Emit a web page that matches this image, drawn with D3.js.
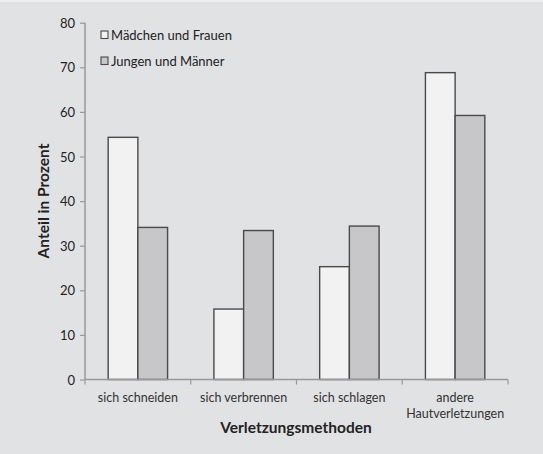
<!DOCTYPE html>
<html><head><meta charset="utf-8">
<script src="https://cdn.jsdelivr.net/npm/d3@7"></script>
<style>html,body{margin:0;padding:0;background:#e1e2e4;}svg{display:block;}</style>
</head><body><svg id="c" width="543" height="454"></svg>
<script>
const categories = [["sich schneiden"], ["sich verbrennen"], ["sich schlagen"], ["andere", "Hautverletzungen"]];
const seriesNames = ["Mädchen und Frauen", "Jungen und Männer"];
const maedchen = [54.3, 15.8, 25.3, 68.8];
const jungen = [34.1, 33.4, 34.4, 59.2];
const yTicks = [0, 10, 20, 30, 40, 50, 60, 70, 80];
const colors = ["#f2f2f3", "#c7c7c9"];

const svg = d3.select("#c");
const font = "Lato, 'Open Sans', sans-serif";
svg.append("rect").attr("width",543).attr("height",454).attr("fill","#e1e2e4");
svg.append("rect").attr("width",543).attr("height",2).attr("fill","#eeeeef");

const m = {left:85, right:508, top:22.7, bottom:379.5};
const x = d3.scaleBand().domain(d3.range(categories.length)).range([m.left, m.right]).paddingInner(0).paddingOuter(0);
const x1 = d3.scaleBand().domain([0,1]).range([0, x.bandwidth()]).paddingOuter(0.78).paddingInner(0);
const y = d3.scaleLinear().domain([0,80]).range([m.bottom, m.top]);

// y axis
const ya = svg.append("g").attr("transform",`translate(${m.left},0)`).call(d3.axisLeft(y).tickValues(yTicks).tickSize(5).tickPadding(5));
ya.select(".domain").attr("stroke","#999").attr("stroke-width",1.5).attr("d",`M0,${m.top}V${m.bottom}`);
ya.selectAll(".tick line").attr("stroke","#999").attr("stroke-width",1.2);
ya.selectAll(".tick text").attr("font-family",font).attr("font-size",13).attr("fill","#222").attr("dy","0.35em");

// bars
const data = [maedchen, jungen];
categories.forEach((c,i)=>{
  data.forEach((s,j)=>{
    svg.append("rect")
      .attr("x", x(i)+x1(j)).attr("width", x1.bandwidth())
      .attr("y", y(s[i])).attr("height", y(0)-y(s[i]))
      .attr("fill", colors[j]).attr("stroke","#4a4a4a").attr("stroke-width",1.4);
  });
});

// x axis
const xa = svg.append("g").attr("transform",`translate(0,${m.bottom})`);
xa.append("line").attr("x1",m.left).attr("x2",m.right).attr("stroke","#999").attr("stroke-width",1.5);
const bounds = d3.range(categories.length+1).map(i=> i<categories.length ? x(i) : x(i-1)+x.bandwidth());
bounds.forEach(b=> xa.append("line").attr("x1",b).attr("x2",b).attr("y1",0).attr("y2",5).attr("stroke","#999").attr("stroke-width",1.2));
categories.forEach((c,i)=>{
  const t = xa.append("text").attr("text-anchor","middle").attr("font-family",font).attr("font-size",12.5).attr("fill","#333")
    .attr("x", x(i)+x.bandwidth()/2).attr("y", 22);
  c.forEach((line,k)=> t.append("tspan").attr("x", x(i)+x.bandwidth()/2).attr("dy", k===0?0:16.5).text(line));
});

// titles
svg.append("text").attr("x",296).attr("y",433).attr("text-anchor","middle").attr("font-family",font)
  .attr("font-size",15.5).attr("font-weight","bold").attr("fill","#222").text("Verletzungsmethoden");
svg.append("text").attr("transform","translate(49,201) rotate(-90)").attr("text-anchor","middle").attr("font-family",font)
  .attr("font-size",15.5).attr("font-weight","bold").attr("fill","#222").text("Anteil in Prozent");

// legend
seriesNames.forEach((n,j)=>{
  const ly = 35 + j*26;
  svg.append("rect").attr("x",101).attr("y",ly-4).attr("width",7).attr("height",7.5)
    .attr("fill",colors[j]).attr("stroke","#4a4a4a").attr("stroke-width",1.1);
  svg.append("text").attr("x",111).attr("y",ly).attr("dy","0.35em").attr("font-family",font).attr("font-size",13)
    .attr("fill","#222").text(n);
});
</script></body></html>
